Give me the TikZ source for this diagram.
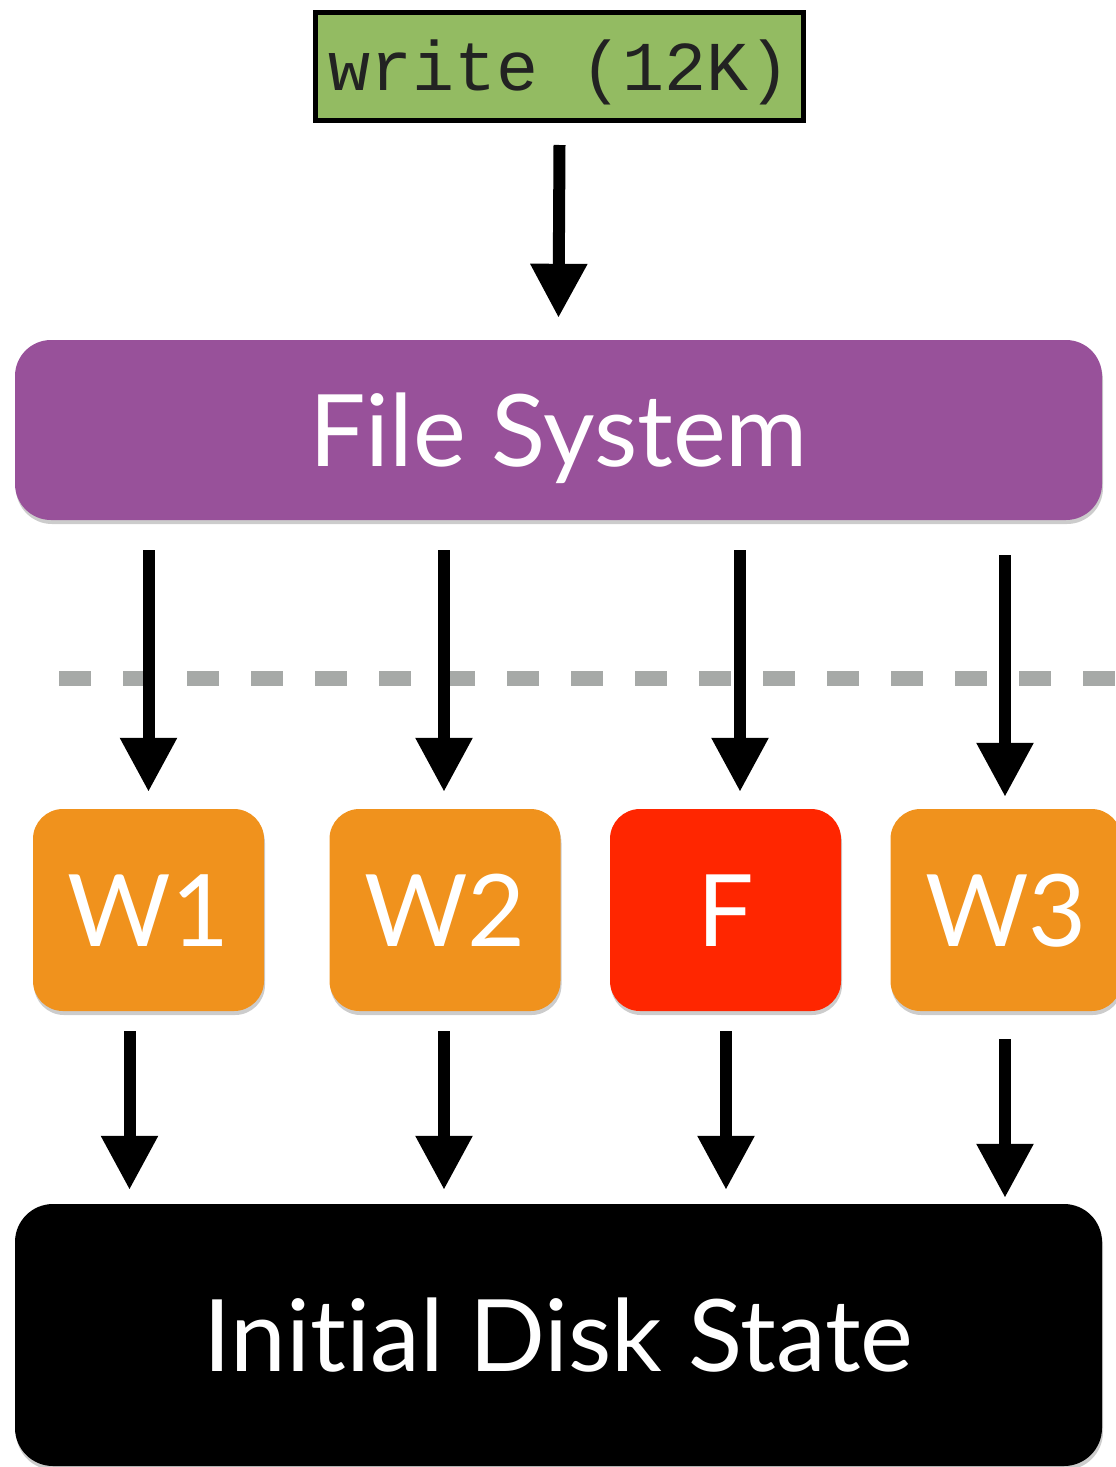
\documentclass[tikz,border=0pt]{standalone}
\usepackage{fontspec}
\setmainfont[Ligatures={NoCommon,NoContextual}]{Lato}
\newfontfamily\monof{Liberation Mono}
\usetikzlibrary{arrows.meta,shadows,calc}
\definecolor{boxgreen}{HTML}{93BB62}
\definecolor{fspurple}{HTML}{98519A}
\definecolor{worange}{HTML}{F0921D}
\definecolor{fred}{HTML}{FF2600}
\definecolor{dashgray}{HTML}{A6A9A7}
\definecolor{txtdark}{HTML}{222222}
\tikzset{
  arr/.style={line width=12pt, -{Triangle[width=54pt,length=54pt]}},
  bigtext/.style={text=white, font=\fontsize{100}{110}\selectfont, text height=72pt, text depth=0pt, inner sep=0pt},
  rbox/.style={rounded corners=#1, drop shadow={shadow xshift=1pt, shadow yshift=-4pt, opacity=0.2, fill=black}},
  wbox/.style={rbox=30pt, fill=worange, minimum width=231pt, minimum height=202pt, bigtext},
  sepline/.style={dashgray, line width=15pt, dash pattern=on 32pt off 32pt}
}
\begin{document}
\begin{tikzpicture}[x=1pt,y=-1pt]
\useasboundingbox (0,0) rectangle (1116,1467);
% separator
\draw[sepline] (59,678.5) -- (1116,678.5);
% nodes
\node[draw=black, line width=5pt, fill=boxgreen, minimum width=488pt, minimum height=108pt, inner sep=0pt,
      text=txtdark, font=\monof\fontsize{70}{76}\selectfont, text height=40pt, text depth=0pt] (write) at (559.5,66.5) {\raisebox{-4pt}{write (12K)}};
\node[rbox=36pt, fill=fspurple, minimum width=1087pt, minimum height=180pt, bigtext] (fs) at (558.5,430) {File System};
\node[wbox] (w1) at (148.5,910) {W1};
\node[wbox] (w2) at (445,910) {W2};
\node[wbox, fill=fred] (f) at (725.5,910) {F};
\node[wbox] (w3) at (1006,910) {W3};
\node[rbox=38pt, fill=black, minimum width=1087pt, minimum height=262pt, bigtext] (disk) at (558.5,1335) {Initial Disk State};
% connectors
\draw[arr] ($(write.south)+(0,22)$) -- ($(fs.north)+(0,-22)$);
\draw[arr] ($(fs.south -| w1.north)+(0,30)$) -- ($(w1.north)+(0,-17)$);
\draw[arr] ($(fs.south -| w2.north)+(-1,30)$) -- ($(w2.north)+(-1,-17)$);
\draw[arr] ($(fs.south -| f.north)+(14.5,30)$) -- ($(f.north)+(14.5,-17)$);
\draw[arr] ($(fs.south -| w3.north)+(-1,35)$) -- ($(w3.north)+(-1,-12)$);
\draw[arr] ($(w1.south)+(-19,20)$) -- ($(w1.south |- disk.north)+(-19,-14)$);
\draw[arr] ($(w2.south)+(-1,20)$) -- ($(w2.south |- disk.north)+(-1,-14)$);
\draw[arr] ($(f.south)+(0.5,20)$) -- ($(f.south |- disk.north)+(0.5,-14)$);
\draw[arr] ($(w3.south)+(-1,28)$) -- ($(w3.south |- disk.north)+(-1,-6)$);
\end{tikzpicture}
\end{document}
